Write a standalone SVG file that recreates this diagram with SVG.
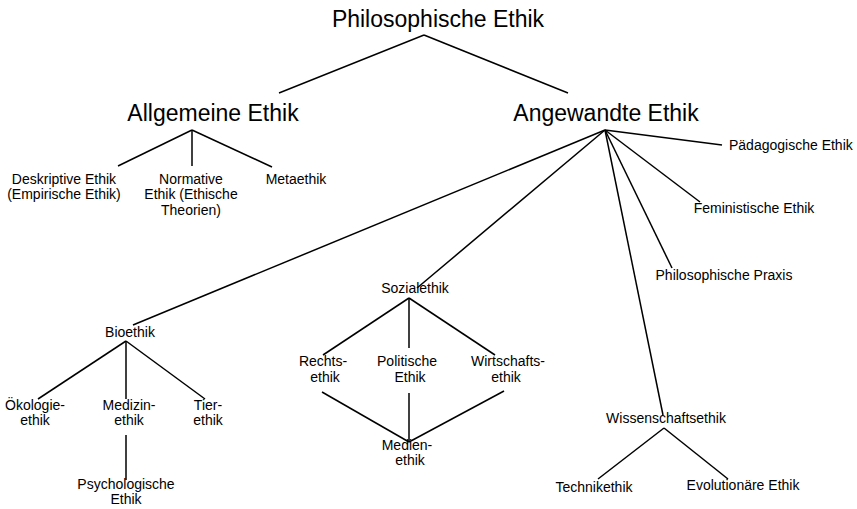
<svg xmlns="http://www.w3.org/2000/svg" width="857" height="509" viewBox="0 0 857 509">
<style>
text{font-family:"Liberation Sans",Arial,sans-serif;fill:#000;text-anchor:middle}
.big{font-size:23px}
.sm{font-size:14px}
.l{text-anchor:start}
#edges line{stroke:#000;stroke-width:1.5}
</style>
<rect width="857" height="509" fill="#fff"/>
<g id="edges">
<line x1="424" y1="35" x2="279" y2="93"/>
<line x1="424" y1="35" x2="568" y2="93"/>
<line x1="192" y1="130" x2="118" y2="166"/>
<line x1="192" y1="130" x2="192" y2="166"/>
<line x1="192" y1="130" x2="272" y2="167"/>
<line x1="605" y1="130" x2="722" y2="145"/>
<line x1="605" y1="130" x2="700" y2="202"/>
<line x1="605" y1="130" x2="672" y2="268"/>
<line x1="605" y1="130" x2="663" y2="415"/>
<line x1="605" y1="130" x2="417" y2="288"/>
<line x1="605" y1="130" x2="133" y2="325"/>
<line x1="126" y1="341" x2="38" y2="399"/>
<line x1="126" y1="341" x2="126" y2="399"/>
<line x1="126" y1="341" x2="205" y2="399"/>
<line x1="126" y1="435" x2="126" y2="480"/>
<line x1="409" y1="298" x2="323" y2="355"/>
<line x1="409" y1="298" x2="409" y2="348"/>
<line x1="409" y1="298" x2="495" y2="355"/>
<line x1="322" y1="392" x2="409" y2="442"/>
<line x1="409" y1="393" x2="409" y2="442"/>
<line x1="504" y1="391" x2="409" y2="442"/>
<line x1="664" y1="428" x2="598" y2="479"/>
<line x1="664" y1="428" x2="728" y2="479"/>
</g>
<g id="philosophische-ethik"><text class="big" x="438" y="27">Philosophische Ethik</text></g>
<g id="allgemeine-ethik"><text class="big" x="213" y="121">Allgemeine Ethik</text></g>
<g id="angewandte-ethik"><text class="big" x="606" y="121">Angewandte Ethik</text></g>
<g id="deskriptive"><text class="sm" x="64" y="184">Deskriptive Ethik</text><text class="sm" x="64" y="199">(Empirische Ethik)</text></g>
<g id="normative"><text class="sm" x="191" y="184">Normative</text><text class="sm" x="191" y="199">Ethik (Ethische</text><text class="sm" x="191" y="215">Theorien)</text></g>
<g id="metaethik"><text class="sm" x="296" y="184">Metaethik</text></g>
<g id="paedagogische"><text class="sm l" x="729" y="150">Pädagogische Ethik</text></g>
<g id="feministische"><text class="sm" x="754" y="213">Feministische Ethik</text></g>
<g id="praxis"><text class="sm" x="724" y="280">Philosophische Praxis</text></g>
<g id="bioethik"><text class="sm" x="130" y="337">Bioethik</text></g>
<g id="oekologie"><text class="sm" x="35" y="410">Ökologie-</text><text class="sm" x="35" y="425">ethik</text></g>
<g id="medizin"><text class="sm" x="129" y="410">Medizin-</text><text class="sm" x="129" y="425">ethik</text></g>
<g id="tier"><text class="sm" x="208" y="410">Tier-</text><text class="sm" x="208" y="425">ethik</text></g>
<g id="psychologische"><text class="sm" x="126" y="489">Psychologische</text><text class="sm" x="126" y="504">Ethik</text></g>
<g id="sozialethik"><text class="sm" x="415" y="293">Sozialethik</text></g>
<g id="rechts"><text class="sm" x="323" y="366">Rechts-</text><text class="sm" x="325" y="382">ethik</text></g>
<g id="politische"><text class="sm" x="407" y="366">Politische</text><text class="sm" x="410" y="382">Ethik</text></g>
<g id="wirtschafts"><text class="sm" x="508" y="366">Wirtschafts-</text><text class="sm" x="506" y="382">ethik</text></g>
<g id="medien"><text class="sm" x="407" y="450">Medien-</text><text class="sm" x="410" y="465">ethik</text></g>
<g id="wissenschafts"><text class="sm" x="666" y="423">Wissenschaftsethik</text></g>
<g id="technik"><text class="sm" x="594" y="492">Technikethik</text></g>
<g id="evolutionaere"><text class="sm" x="743" y="490">Evolutionäre Ethik</text></g>
</svg>
